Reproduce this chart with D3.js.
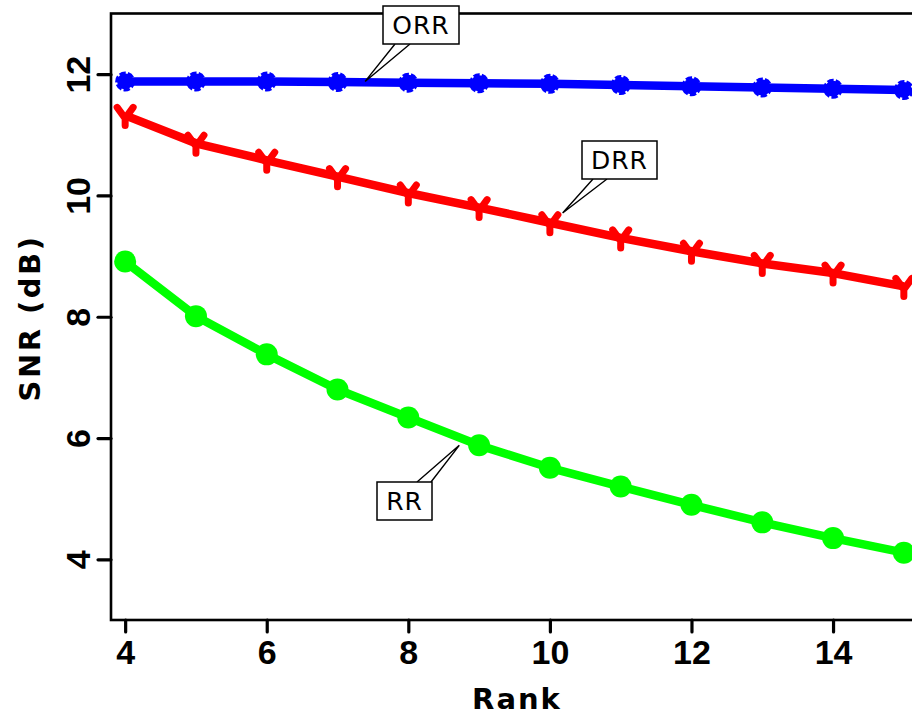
<!DOCTYPE html>
<html>
<head>
<meta charset="utf-8">
<script src="https://cdn.jsdelivr.net/npm/d3@7/dist/d3.min.js"></script>
<style>
  html, body { margin: 0; padding: 0; background: #fff; overflow: hidden; }
  svg { display: block; }
</style>
</head>
<body>
<script>
// Rank values on the x axis
const ranks = [4, 5, 6, 7, 8, 9, 10, 11, 12, 13, 14, 15];

// SNR (dB) per method
const orr = [11.88, 11.88, 11.88, 11.87, 11.86, 11.85, 11.84, 11.82, 11.80, 11.78, 11.76, 11.74];
const drr = [11.32, 10.86, 10.58, 10.31, 10.04, 9.80, 9.55, 9.30, 9.08, 8.88, 8.72, 8.50];
const rr  = [8.91, 8.01, 7.38, 6.80, 6.34, 5.88, 5.51, 5.20, 4.90, 4.61, 4.35, 4.11];

// Tick values
const xTicks = [4, 6, 8, 10, 12, 14];
const yTicks = [4, 6, 8, 10, 12];

// Callout labels and the data point each one points at
const calloutLabels = ["ORR", "DRR", "RR"];
const calloutX = [7.39, 10.18, 8.72];
const calloutY = [11.88, 9.71, 5.88];

const W = 912, H = 719;
const plot = { left: 111, right: 918, top: 13.5, bottom: 620 };

const svg = d3.select("body").append("svg")
  .attr("width", W).attr("height", H);

const x = d3.scaleLinear().domain([3.8, 15.2]).range([plot.left, plot.right]);
const y = d3.scaleLinear().domain([3, 13]).range([plot.bottom, plot.top]);

// Axes
const xAxis = d3.axisBottom(x).tickValues(xTicks).tickSize(12).tickPadding(8);
const yAxis = d3.axisLeft(y).tickValues(yTicks).tickSize(13).tickPadding(6);

const gx = svg.append("g").attr("transform", `translate(0,${plot.bottom})`).call(xAxis);
const gy = svg.append("g").attr("transform", `translate(${plot.left},0)`).call(yAxis);

[gx, gy].forEach(g => {
  g.select(".domain").remove();
  g.selectAll(".tick line").attr("stroke", "#000").attr("stroke-width", 3.2).attr("stroke-linecap", "round");
  g.selectAll(".tick text")
    .attr("fill", "#000")
    .style("font-family", "'Liberation Sans', Arial, sans-serif")
    .style("font-weight", "bold")
    .style("font-size", "34px");
});
gx.selectAll(".tick text").attr("dy", "0.72em");
// y tick labels are rotated to read bottom-to-top
gy.selectAll(".tick text")
  .attr("text-anchor", "middle")
  .attr("x", null).attr("dy", null)
  .attr("transform", "translate(-21,0) rotate(-90)")
  .attr("y", 0);

// Plot frame
svg.append("rect")
  .attr("x", plot.left).attr("y", plot.top)
  .attr("width", plot.right - plot.left).attr("height", plot.bottom - plot.top)
  .attr("fill", "none").attr("stroke", "#000").attr("stroke-width", 2.6);

// Axis titles
svg.append("text")
  .attr("x", 517).attr("y", 709)
  .attr("text-anchor", "middle")
  .style("font-family", "'DejaVu Sans', sans-serif")
  .style("font-weight", "bold").style("font-size", "29px")
  .style("letter-spacing", "2px")
  .text("Rank");

svg.append("text")
  .attr("transform", "translate(40,318) rotate(-90)")
  .attr("text-anchor", "middle")
  .style("font-family", "'DejaVu Sans', sans-serif")
  .style("font-weight", "bold").style("font-size", "29px")
  .style("letter-spacing", "2.5px")
  .text("SNR (dB)");

// Series
const line = d3.line().x(d => x(d[0])).y(d => y(d[1]));
const series = [
  { vals: orr, color: "#0000ff", marker: "dot" },
  { vals: drr, color: "#ff0000", marker: "vee" },
  { vals: rr,  color: "#00ff00", marker: "circle" }
];

series.forEach(s => {
  const pts = ranks.map((r, i) => [r, s.vals[i]]);
  svg.append("path")
    .datum(pts)
    .attr("d", line)
    .attr("fill", "none")
    .attr("stroke", s.color)
    .attr("stroke-width", 8.5)
    .attr("stroke-linejoin", "round");

  const g = svg.append("g");
  if (s.marker === "circle") {
    g.selectAll("circle").data(pts).join("circle")
      .attr("cx", d => x(d[0])).attr("cy", d => y(d[1]))
      .attr("r", 11).attr("fill", s.color);
  } else if (s.marker === "dot") {
    g.selectAll("circle").data(pts).join("circle")
      .attr("cx", d => x(d[0])).attr("cy", d => y(d[1]))
      .attr("r", 8).attr("fill", s.color)
      .attr("stroke", s.color).attr("stroke-width", 4)
      .attr("stroke-dasharray", "6 2");
  } else {
    g.selectAll("path").data(pts).join("path")
      .attr("transform", d => `translate(${x(d[0])},${y(d[1])})`)
      .attr("d", "M-8,-8 L0,3 L8,-8 M0,3 L0,10")
      .attr("fill", "none")
      .attr("stroke", s.color).attr("stroke-width", 7)
      .attr("stroke-linecap", "round").attr("stroke-linejoin", "round");
  }
});

// Callouts: boxed label with a narrow wedge pointing at the curve
const calloutLayout = {
  ORR: { bx: 383, by: 6,   bw: 76, bh: 38, w1: 395, w2: 410, wy: 44 },
  DRR: { bx: 582, by: 141, bw: 75, bh: 38, w1: 593, w2: 607, wy: 179 },
  RR:  { bx: 377, by: 482, bw: 55, bh: 38, w1: 417, w2: 431, wy: 482 }
};

calloutLabels.forEach((lab, i) => {
  const L = calloutLayout[lab];
  const tx = x(calloutX[i]), ty = y(calloutY[i]);
  svg.append("path")
    .attr("d", `M${L.w1},${L.wy} L${tx},${ty} L${L.w2},${L.wy}`)
    .attr("fill", "#fff").attr("stroke", "#000").attr("stroke-width", 1.4);
  svg.append("rect")
    .attr("x", L.bx).attr("y", L.by).attr("width", L.bw).attr("height", L.bh)
    .attr("fill", "#fff").attr("stroke", "#000").attr("stroke-width", 1.5);
  svg.append("text")
    .attr("x", L.bx + L.bw / 2).attr("y", L.by + L.bh / 2 + 9)
    .attr("text-anchor", "middle")
    .style("font-family", "'DejaVu Sans', sans-serif")
    .style("font-size", "25px")
    .style("letter-spacing", "1px")
    .text(lab);
});
</script>
</body>
</html>
